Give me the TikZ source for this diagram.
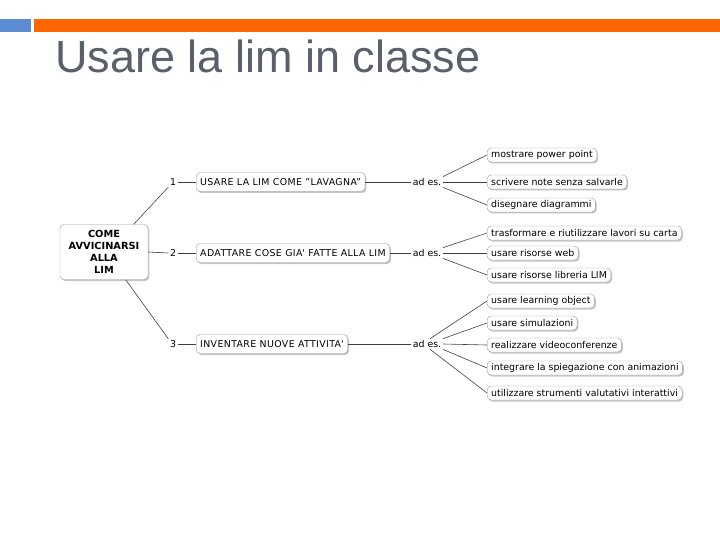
\documentclass[tikz,border=0pt]{standalone}
\usepackage{fontspec}
\setmainfont{DejaVu Sans}
\newfontfamily\titlefont{Liberation Sans}
\usetikzlibrary{shadows}
\definecolor{barblue}{HTML}{5B8BD0}
\definecolor{barorange}{HTML}{FF6600}
\definecolor{titlegray}{HTML}{5A606B}
\newcommand{\apos}{\textquotesingle}

\begin{document}
\begin{tikzpicture}[x=1pt,y=-1pt,
	every node/.style={font=\fontsize{9.4}{11}\selectfont, inner sep=1.5pt},
	topic/.style={draw=black!40, fill=white, rounded corners=4pt, inner xsep=4pt, inner ysep=1pt,
		drop shadow={shadow xshift=1.3pt, shadow yshift=-1.5pt, fill=black!45}},
	branch/.style={topic, anchor=west, minimum height=19pt,
		font=\fontsize{9.4}{11}\selectfont\addfontfeature{LetterSpace=4}},
	leaf/.style={topic, anchor=west, minimum height=14pt},
	link/.style={draw=black!75, line width=0.6pt}]
	\useasboundingbox (0,0) rectangle (720,540);
	% header
	\fill[barblue] (0,19) rectangle (31,32);
	\fill[barorange] (34,19) rectangle (720,32);
	\node[anchor=base west, inner sep=0, text=titlegray, font=\titlefont\fontsize{45}{45}\selectfont] (title) at (55,73) {Usare la lim in classe};
	% mind map
	\node[topic, align=center, minimum width=88pt, minimum height=55pt, inner sep=2pt,
		font=\bfseries\fontsize{9.8}{12}\selectfont] (root) at (104,252) {COME\\AVVICINARSI\\ALLA\\LIM};
	\node (n1) at (173,182) {1};
	\node (n2) at (173,253) {2};
	\node (n3) at (173,344) {3};
	\node[branch] (b1) at (196,182) {USARE LA LIM COME "LAVAGNA"};
	\node[branch] (b2) at (196,253) {ADATTARE COSE GIA\apos{} FATTE ALLA LIM};
	\node[branch] (b3) at (196,344) {INVENTARE NUOVE ATTIVITA\apos};
	\node (a1) at (427,182) {ad es.};
	\node (a2) at (427,253) {ad es.};
	\node (a3) at (427,344) {ad es.};
	\node[leaf] (l11) at (487,155) {mostrare power point};
	\node[leaf] (l12) at (487,182) {scrivere note senza salvarle};
	\node[leaf] (l13) at (487,205) {disegnare diagrammi};
	\node[leaf] (l21) at (487,233) {trasformare e riutilizzare lavori su carta};
	\node[leaf] (l22) at (487,253) {usare risorse web};
	\node[leaf] (l23) at (487,275) {usare risorse libreria LIM};
	\node[leaf] (l31) at (487,301) {usare learning object};
	\node[leaf] (l32) at (487,323) {usare simulazioni};
	\node[leaf] (l33) at (487,345) {realizzare videoconferenze};
	\node[leaf] (l34) at (487,368) {integrare la spiegazione con animazioni};
	\node[leaf] (l35) at (487,393) {utilizzare strumenti valutativi interattivi};
	\path[link]
	(root.43) edge (n1.south west)
	(root.east) edge (n2.west)
	(root.-52) edge (n3.north west)
	(n1) edge (b1) (n2) edge (b2) (n3) edge (b3)
	(b1) edge (a1) (b2) edge (a2) (b3) edge (a3)
	(a1.north east) edge (l11.west)
	(a1.east) edge (l12.west)
	(a1.south east) edge (l13.west)
	(a2.north east) edge (l21.west)
	(a2.east) edge (l22.west)
	(a2.south east) edge (l23.west)
	(a3.60) edge (l31.west)
	(a3.north east) edge (l32.west)
	(a3.east) edge (l33.west)
	(a3.south east) edge (l34.west)
	(a3.-60) edge (l35.west);
\end{tikzpicture}
\end{document}
